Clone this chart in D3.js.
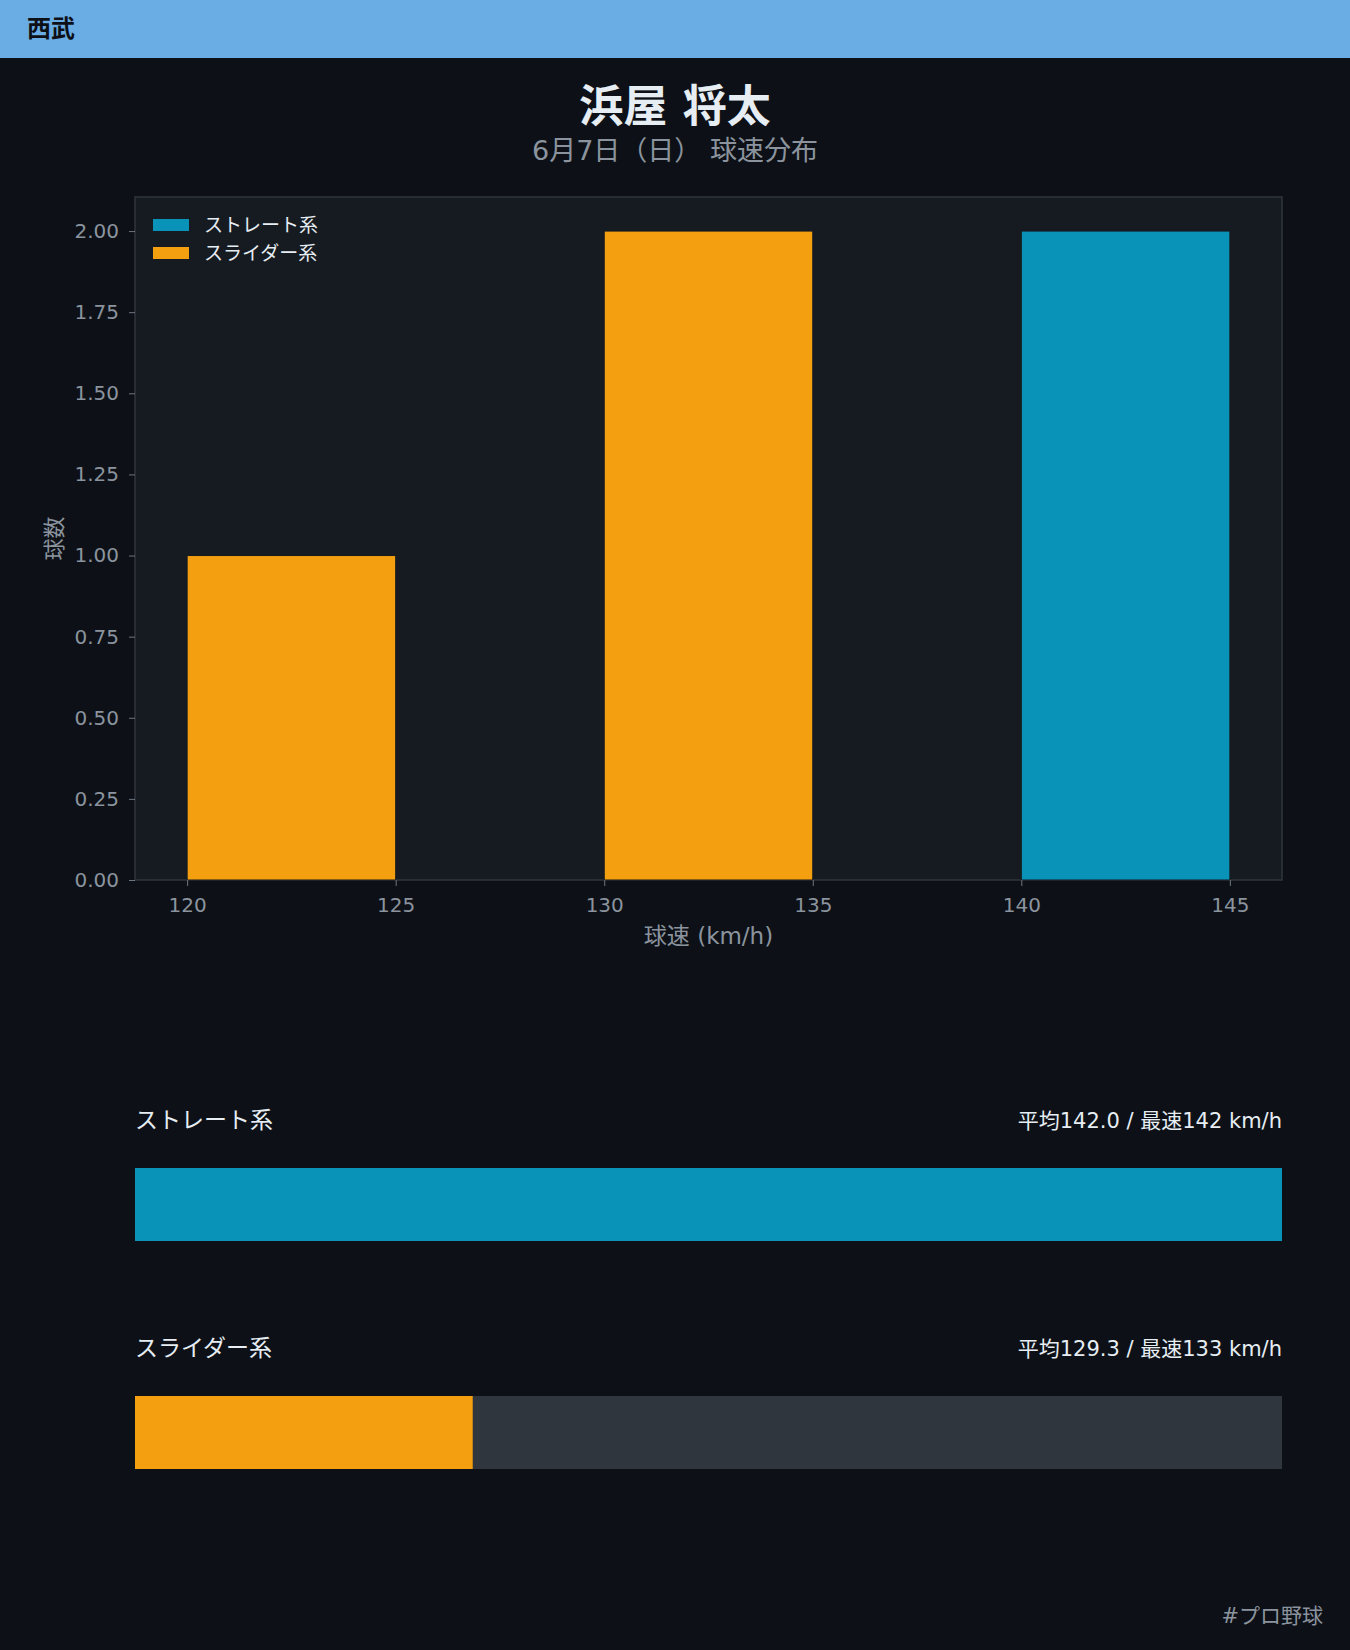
<!DOCTYPE html>
<html>
<head>
<meta charset="utf-8">
<script src="https://cdn.jsdelivr.net/npm/d3@7"></script>
<style>
  body { margin: 0; background: #0d1117; font-family: "DejaVu Sans", "Noto Sans CJK JP", sans-serif; }
  svg { display: block; }
  text { font-family: "DejaVu Sans", "Noto Sans CJK JP", sans-serif; }
</style>
</head>
<body>
<svg id="chart" width="1350" height="1650"></svg>
<script>
// data
const teamName = "西武";
const playerName = "浜屋 将太";
const subTitle = "6月7日（日） 球速分布";
const binStarts = [120, 130, 140];
const binWidth = 5;
const binCounts = [1, 2, 2];
const binTypes = ["スライダー系", "スライダー系", "ストレート系"];
const pitchTypes = ["ストレート系", "スライダー系"];
const pitchColors = ["#0993b8", "#f39f10"];
const avgSpeeds = [142.0, 129.3];
const maxSpeeds = [142, 133];
const yTicks = [0, 0.25, 0.5, 0.75, 1, 1.25, 1.5, 1.75, 2];
const xTicks = [120, 125, 130, 135, 140, 145];

const svg = d3.select("#chart");
const W = 1350;

// page background + header
svg.append("rect").attr("width", W).attr("height", 1650).attr("fill", "#0d1117");
svg.append("rect").attr("width", W).attr("height", 58).attr("fill", "#6aade4");
svg.append("text").attr("x", 27).attr("y", 37).text(teamName)
  .attr("font-size", 24).attr("font-weight", "bold").attr("fill", "#0d1117");

svg.append("text").attr("x", W / 2).attr("y", 122).attr("text-anchor", "middle")
  .text(playerName).attr("font-size", 44).attr("font-weight", "bold").attr("fill", "#e6edf3");
svg.append("text").attr("x", W / 2).attr("y", 160).attr("text-anchor", "middle")
  .text(subTitle).attr("font-size", 27).attr("fill", "#8b949e");

// histogram
const m = {left: 135, top: 197, right: 1282, bottom: 880};
const color = d3.scaleOrdinal().domain(pitchTypes).range(pitchColors);
const x = d3.scaleLinear().domain([118.75, 146.25]).range([m.left, m.right]);
const y = d3.scaleLinear().domain([0, 2.105]).range([m.bottom, m.top]);

svg.append("rect").attr("x", m.left).attr("y", m.top)
  .attr("width", m.right - m.left).attr("height", m.bottom - m.top)
  .attr("fill", "#161b22").attr("stroke", "#30363d").attr("stroke-width", 1.5);

svg.append("g").selectAll("rect")
  .data(binStarts)
  .join("rect")
  .attr("x", d => x(d))
  .attr("y", (d, i) => y(binCounts[i]))
  .attr("width", d => x(d + binWidth) - x(d))
  .attr("height", (d, i) => y(0) - y(binCounts[i]))
  .attr("fill", (d, i) => color(binTypes[i]))
  .attr("stroke", "#161b22").attr("stroke-width", 1);

const xAxis = svg.append("g").attr("transform", `translate(0,${m.bottom})`)
  .call(d3.axisBottom(x).tickValues(xTicks).tickSize(6).tickPadding(12));
const yAxis = svg.append("g").attr("transform", `translate(${m.left},0)`)
  .call(d3.axisLeft(y).tickValues(yTicks).tickFormat(d3.format(".2f")).tickSize(6).tickPadding(10));
[xAxis, yAxis].forEach(g => {
  g.select(".domain").remove();
  g.selectAll("line").attr("stroke", "#6e7681");
  g.selectAll("text").attr("fill", "#8b949e").attr("font-size", 20)
    .attr("font-family", "'DejaVu Sans', 'Noto Sans CJK JP', sans-serif");
});

svg.append("text").attr("x", (m.left + m.right) / 2).attr("y", 944).attr("text-anchor", "middle")
  .text("球速 (km/h)").attr("font-size", 23).attr("fill", "#8b949e");
svg.append("text").attr("transform", `translate(62,${(m.top + m.bottom) / 2}) rotate(-90)`)
  .attr("text-anchor", "middle").text("球数").attr("font-size", 22).attr("fill", "#8b949e");

// legend
const legend = svg.append("g").selectAll("g").data(pitchTypes).join("g")
  .attr("transform", (d, i) => `translate(153,${219 + i * 28})`);
legend.append("rect").attr("width", 36).attr("height", 12).attr("fill", d => color(d));
legend.append("text").attr("x", 51).attr("y", 13).text(d => d)
  .attr("font-size", 19).attr("fill", "#e6edf3");

// average speed bars
const barScale = d3.scaleLinear().domain([124, 142]).range([m.left, m.right]).clamp(true);
const rows = svg.append("g").selectAll("g").data(pitchTypes).join("g")
  .attr("transform", (d, i) => `translate(0,${1128 + i * 228})`);
rows.append("text").attr("x", m.left).attr("y", 0).text(d => d)
  .attr("font-size", 23).attr("fill", "#e6edf3");
rows.append("text").attr("x", m.right).attr("y", 0).attr("text-anchor", "end")
  .text((d, i) => `平均${avgSpeeds[i].toFixed(1)} / 最速${maxSpeeds[i]} km/h`)
  .attr("font-size", 21).attr("fill", "#e6edf3");
rows.append("rect").attr("x", m.left).attr("y", 40)
  .attr("width", m.right - m.left).attr("height", 73).attr("fill", "#30363d");
rows.append("rect").attr("x", m.left).attr("y", 40)
  .attr("width", (d, i) => barScale(avgSpeeds[i]) - m.left).attr("height", 73)
  .attr("fill", d => color(d));

svg.append("text").attr("x", 1323).attr("y", 1623).attr("text-anchor", "end")
  .text("#プロ野球").attr("font-size", 21).attr("fill", "#8b949e");
</script>
</body>
</html>
